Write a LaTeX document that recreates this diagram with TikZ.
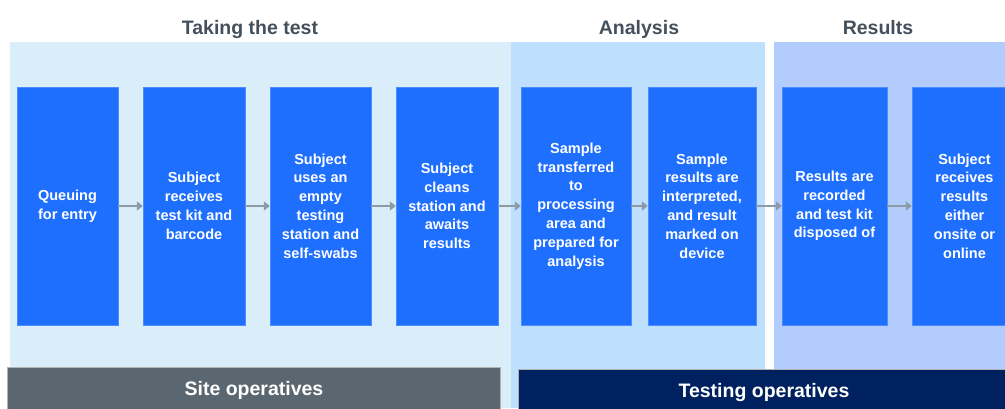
\documentclass[tikz,border=0pt]{standalone}
\usepackage{fontspec}
\setmainfont{Liberation Sans}
\usepackage{tikz}
\usetikzlibrary{arrows.meta, positioning}
\definecolor{takePanel}{HTML}{D9EEF9}
\definecolor{analysisPanel}{HTML}{BFDFFE}
\definecolor{resultsPanel}{HTML}{B3CCFE}
\definecolor{stageBlue}{HTML}{1F6FFF}
\definecolor{stageEdge}{HTML}{4D8CFF}
\definecolor{siteGrey}{HTML}{5A6670}
\definecolor{testNavy}{HTML}{00215F}
\definecolor{headGrey}{HTML}{44505C}
\definecolor{arrowGrey}{HTML}{8C9BA5}
\tikzstyle{stage} = [rectangle, draw=stageEdge, fill=stageBlue, text=white,
    font=\bfseries\fontsize{14.5}{18.8}\selectfont, align=center,
    minimum height=238pt, inner sep=1pt]
\tikzstyle{line} = [draw=arrowGrey, line width=2.6pt,
    -{Triangle[length=6pt, width=9pt]}]

\begin{document}
\begin{tikzpicture}[x=1pt, y=-1pt,
    heading/.style={text=headGrey, anchor=base,
        font=\bfseries\fontsize{19.5}{22}\selectfont},
    team/.style={text=white, font=\bfseries\fontsize{19.5}{22}\selectfont,
        text depth=0pt, inner sep=0pt}
    ]
    \useasboundingbox (0,0) rectangle (1005,408);
    \clip (0,0) rectangle (1005,408);

    % phase backgrounds
    \fill[takePanel] (10,42) rectangle (511,408);
    \fill[analysisPanel] (511,42) rectangle (765,408);
    \fill[resultsPanel] (774,42) rectangle (1005,408);

    \node[heading] (taking) at (250,34.5) {Taking the test};
    \node[heading] (analysis) at (639,34.5) {Analysis};
    \node[heading] (results) at (878,34.5) {Results};

    % stages
    \node[stage, minimum width=101pt] (queue) at (67.5,206) {Queuing\\for entry};
    \node[stage, minimum width=102pt] (kit) at (194,206) {Subject\\receives\\test kit and\\barcode};
    \node[stage, minimum width=101pt] (swab) at (320.5,206) {Subject\\uses an\\empty\\testing\\station and\\self-swabs};
    \node[stage, minimum width=102pt] (clean) at (447,206) {Subject\\cleans\\station and\\awaits\\results};
    \node[stage, minimum width=110pt] (transfer) at (576,206) {Sample\\transferred\\to\\processing\\area and\\prepared for\\analysis};
    \node[stage, minimum width=108pt] (interpret) at (702,206) {Sample\\results are\\interpreted,\\and result\\marked on\\device};
    \node[stage, minimum width=105pt] (record) at (834.5,206) {Results are\\recorded\\and test kit\\disposed of};
    \node[stage, minimum width=105pt] (receive) at (964.5,206) {Subject\\receives\\results\\either\\onsite or\\online};

    \draw[line] (queue) -- (kit);
    \draw[line] (kit) -- (swab);
    \draw[line] (swab) -- (clean);
    \draw[line] (clean) -- (transfer);
    \draw[line] (transfer) -- (interpret);
    \draw[line] (interpret) -- (record);
    \draw[line] (record) -- (receive);

    % who does it
    \fill[siteGrey, draw=gray!60] (7,367) rectangle (500,410);
    \fill[testNavy, draw=gray!60] (518,369) rectangle (1007,410);
    \node[team, anchor=base] (site) at (254,395.5) {Site operatives};
    \node[team, anchor=base] (testing) at (764,397) {Testing operatives};
\end{tikzpicture}
\end{document}
